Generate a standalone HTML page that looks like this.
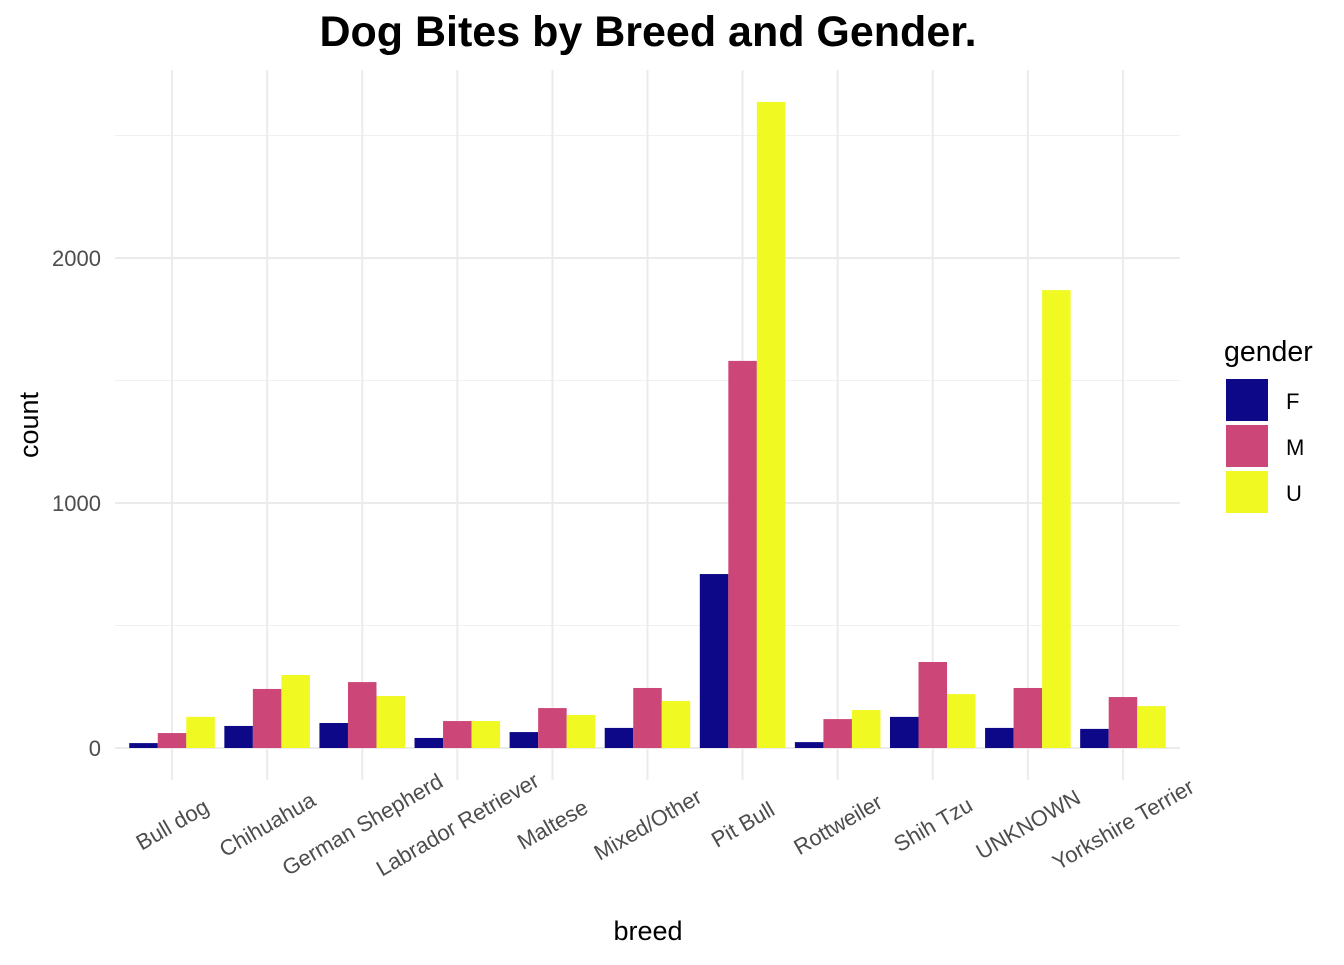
<!DOCTYPE html>
<html><head><meta charset="utf-8"><style>
body{margin:0;background:#fff;font-family:"Liberation Sans",Arial,sans-serif}
</style></head><body>
<svg id="chart" width="1344" height="960" xmlns="http://www.w3.org/2000/svg">
<rect width="1344" height="960" fill="#fff"/>
<text x="648" y="46" text-anchor="middle" font-size="43" font-weight="bold" font-family="Liberation Sans, sans-serif">Dog Bites by Breed and Gender.</text>
<g id="grid"></g><g id="bars"></g><g id="axes"></g>
<text x="648" y="940" text-anchor="middle" font-size="27">breed</text>
<text transform="translate(38,425) rotate(-90)" text-anchor="middle" font-size="27">count</text>
<g>
<text x="1224" y="361" font-size="28.5">gender</text>
<rect x="1226" y="379" width="42" height="42" fill="#0d0887"/>
<text x="1286" y="409" font-size="22">F</text>
<rect x="1226" y="425" width="42" height="42" fill="#cc4678"/>
<text x="1286" y="455" font-size="22">M</text>
<rect x="1226" y="471" width="42" height="42" fill="#f0f921"/>
<text x="1286" y="501" font-size="22">U</text>
</g>
</svg>
<script>
const categories=["Bull dog","Chihuahua","German Shepherd","Labrador Retriever","Maltese","Mixed/Other","Pit Bull","Rottweiler","Shih Tzu","UNKNOWN","Yorkshire Terrier"];
const seriesF=[20,90,102,41,65,82,710,24,127,82,78];
const seriesM=[61,241,269,110,163,245,1580,118,351,245,208];
const seriesU=[127,298,212,110,135,192,2637,155,220,1869,171];
const yTicks=[0,1000,2000];
const yMinor=[500,1500,2500];
const NS="http://www.w3.org/2000/svg";
const x0=124.5,x1=1170.5,px0=115,px1=1180,yBase=748,pxPer=0.245;
const step=(x1-x0)/categories.length;
const xc=i=>x0+step*(i+0.5);
const ys=v=>yBase-v*pxPer;
function mk(p,tag,a){const e=document.createElementNS(NS,tag);for(const k in a)e.setAttribute(k,a[k]);p.appendChild(e);return e;}
const grid=document.getElementById('grid'),bars=document.getElementById('bars'),axes=document.getElementById('axes');
yMinor.forEach(v=>{const l=mk(grid,'line',{x1:px0,x2:px1,y1:ys(v),y2:ys(v),stroke:'#f0f0f0','stroke-width':1});

});
yTicks.forEach(v=>{const l=mk(grid,'line',{x1:px0,x2:px1,y1:ys(v),y2:ys(v),stroke:'#ebebeb','stroke-width':2});


const t=mk(axes,'text',{x:101,y:ys(v)+8,'text-anchor':'end','font-size':22,fill:'#4d4d4d'});t.textContent=v;

});
categories.forEach((c,i)=>{const l=mk(grid,'line',{x1:xc(i),x2:xc(i),y1:70,y2:yBase+32,stroke:'#ebebeb','stroke-width':2});


const t=mk(axes,'text',{transform:`translate(${xc(i)+4},${yBase+83}) rotate(-30)`,'text-anchor':'middle','font-size':22,fill:'#4d4d4d'});t.textContent=c;

});
const bw=step*0.9/3;
[[seriesF,'#0d0887','f'],[seriesM,'#cc4678','m'],[seriesU,'#f0f921','u']].forEach(([s,col,g],k)=>{
s.forEach((v,i)=>{const r=mk(bars,'rect',{x:xc(i)-1.5*bw+k*bw,y:ys(v),width:bw,height:v*pxPer,fill:col});

});});
</script>
</body></html>
